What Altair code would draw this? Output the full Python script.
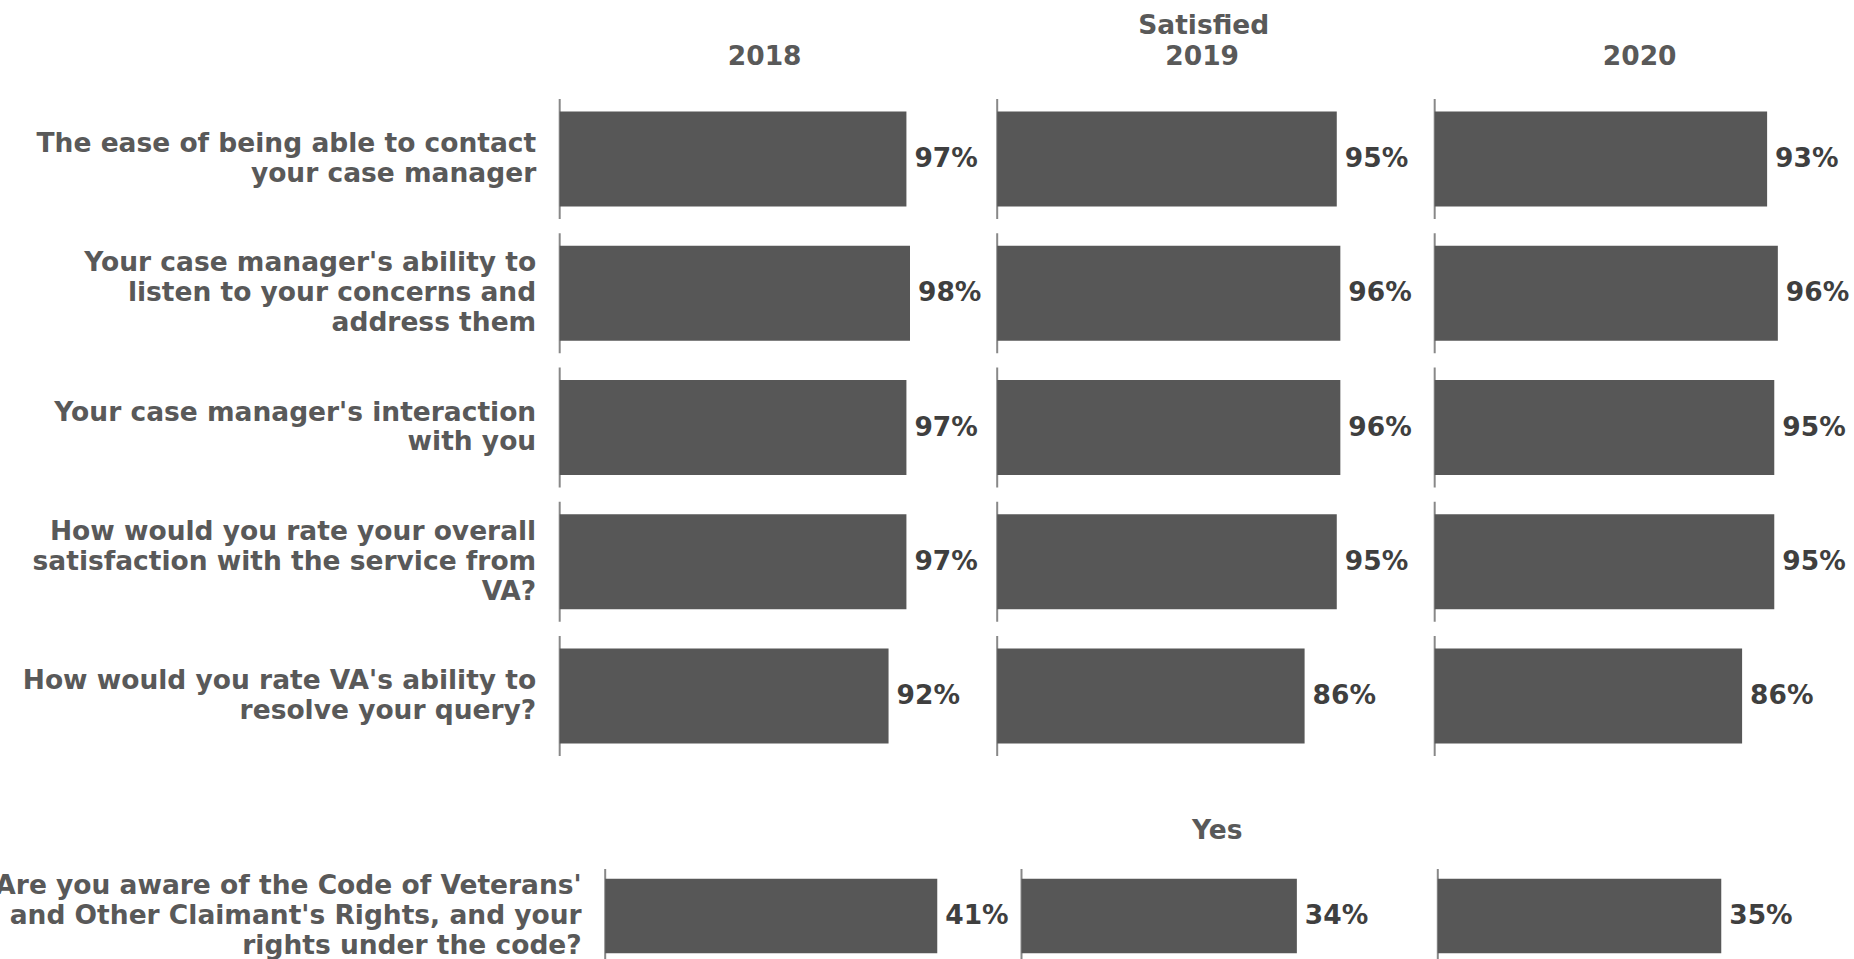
import altair as alt
import pandas as pd

# ---------------- data ----------------
years = ["2018", "2019", "2020"]
questions = [
    "The ease of being able to contact|your case manager",
    "Your case manager's ability to|listen to your concerns and|address them",
    "Your case manager's interaction|with you",
    "How would you rate your overall|satisfaction with the service from|VA?",
    "How would you rate VA's ability to|resolve your query?",
]
satisfied_2018 = [97, 98, 97, 97, 92]
satisfied_2019 = [95, 96, 96, 95, 86]
satisfied_2020 = [93, 96, 95, 95, 86]

yes_question = "Are you aware of the Code of Veterans'|and Other Claimant's Rights, and your|rights under the code?"
yes_values = [41, 34, 35]

top_rows = []
for yr, vals in zip(years, [satisfied_2018, satisfied_2019, satisfied_2020]):
    for q, v in zip(questions, vals):
        top_rows.append({"year": yr, "question": q, "value": v})
df_top = pd.DataFrame(top_rows)
df_bottom = pd.DataFrame({"year": years, "question": [yes_question] * 3, "value": yes_values})

# ---------------- style ----------------
FONT = "DejaVu Sans"
FS = 26.5
LINE_H = 30
LABEL_C = "#595959"
VAL_C = "#3f3f3f"
BAR_C = "#575757"
AXIS_C = "#555555"

# centre multi-line labels on their row: shift up by half of the extra lines
label_offset = {
    "condition": {"test": "length(split(datum.value, '|')) == 3", "value": -LINE_H},
    "value": -LINE_H / 2,
}


def section(df, qorder, xmax, w, row_step, row_gap, title, show_years,
            label_pad, title_pad, col_spacing):
    n = len(qorder)
    h = n * row_step - row_gap
    band_h = row_step - row_gap
    y = alt.Y(
        "question:N",
        sort=qorder,
        scale=alt.Scale(paddingInner=row_gap / row_step, paddingOuter=0),
        axis=alt.Axis(
            title=None, domain=False, ticks=False, grid=False,
            labelExpr="split(datum.label, '|')",
            labelFont=FONT, labelFontWeight="bold", labelFontSize=FS,
            labelColor=LABEL_C, labelLineHeight=LINE_H, labelPadding=23,
            labelLimit=0, labelAlign="right", labelBaseline="middle",
            labelOffset=label_offset,
        ),
    )
    x = alt.X("value:Q", axis=None,
              scale=alt.Scale(domain=[0, xmax], nice=False, zero=True))
    base = alt.Chart().transform_calculate(
        zero="0", lab="format(datum.value, 'd') + '%'"
    )
    segs = base.mark_tick(color=AXIS_C, thickness=2, size=band_h).encode(
        x=alt.X("zero:Q", axis=None, scale=alt.Scale(domain=[0, xmax], nice=False)),
        y=y,
    )
    bars = base.mark_bar(color=BAR_C, height=alt.RelativeBandSize(band=0.79)).encode(x=x, y=y)
    text = base.mark_text(
        align="left", baseline="middle", dx=8, font=FONT,
        fontWeight="bold", fontSize=FS, color=VAL_C,
    ).encode(x=x, y=y, text="lab:N")
    col_header = alt.Header(
        labels=show_years,
        labelFont=FONT, labelFontWeight="bold", labelFontSize=FS, labelColor=LABEL_C,
        labelPadding=label_pad,
        titleFont=FONT, titleFontWeight="bold", titleFontSize=FS, titleColor=LABEL_C,
        titlePadding=title_pad,
    )
    return (
        alt.layer(bars, segs, text, data=df)
        .properties(width=w, height=h)
        .facet(
            column=alt.Column("year:N", sort=years, header=col_header, title=title),
            spacing=col_spacing,
        )
    )


top = section(df_top, questions, 114.7, 410, 134.25, 14.25, "Satisfied", True, 27.5, -5, 14.5)
bottom = section(df_bottom, [yes_question], 48.4, 392, 94, 0, "Yes", False, 0, 14.5, 11.3)


def spacer():
    return (
        alt.Chart(pd.DataFrame({"s": []}))
        .mark_point(opacity=0)
        .properties(width=1, height=1)
    )


top_row = alt.hconcat(spacer(), top, spacing=27.5)
bottom_row = alt.hconcat(spacer(), bottom, spacing=0)

chart = (
    alt.vconcat(top_row, bottom_row, spacing=62)
    .properties(padding={"left": -6.8, "top": 12, "right": 0, "bottom": 0},
                background="white")
    .configure_view(strokeWidth=0, stroke="transparent")
)

chart.save("out.html", embed_options={"renderer": "svg", "actions": False})
